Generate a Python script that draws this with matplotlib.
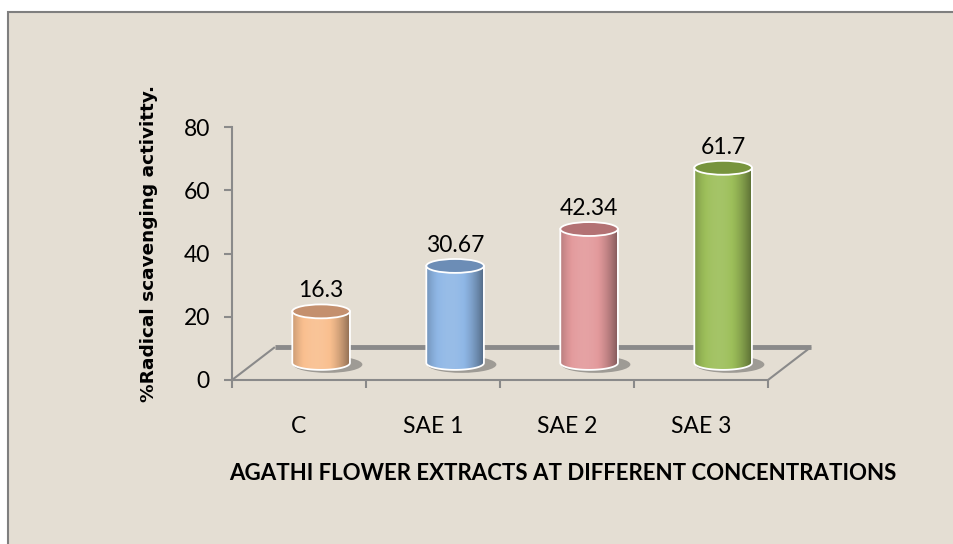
import numpy as np
import matplotlib
matplotlib.use("Agg")
import matplotlib.pyplot as plt
from matplotlib.patches import Polygon, Ellipse, Rectangle

# data
categories = ["C", "SAE 1", "SAE 2", "SAE 3"]
values = [16.3, 30.67, 42.34, 61.7]
value_labels = ["16.3", "30.67", "42.34", "61.7"]
body_colors = ["#F9BF8F", "#8FB7E6", "#E39A9C", "#9DBF5A"]
top_colors = ["#C4906E", "#6C8DB6", "#B37274", "#77943D"]
y_ticks = [0, 20, 40, 60, 80]

W, H = 954, 544
BG = "#E4DED3"
GRID = "#8A8A8A"
FONT = "Lato"

# 3d look, in data units
depth_dx, depth_dy = 0.165, 5.4      # cylinder base offset into the floor
floor_dx, floor_dy = 0.32, 10.4      # back edge of floor
half_w = 0.215
ell_h = 4.4


def shade(color, k):
    c = np.array(matplotlib.colors.to_rgb(color))
    if k >= 1:
        return c + (1 - c) * (k - 1)
    return c * k


def draw_cylinder(ax, xc, val, body, top):
    base = depth_dy
    ytop = base + val
    t = np.linspace(np.pi, 2 * np.pi, 60)
    arc = np.column_stack([xc + half_w * np.cos(t), base + ell_h / 2 * np.sin(t)])
    pts = np.vstack([[xc - half_w, ytop], arc, [xc + half_w, ytop]])

    # shadow on the floor
    ax.add_patch(Ellipse((xc + 0.05, base - 0.5), 2 * half_w * 1.2, ell_h * 1.2,
                         color="#4a4a4a", alpha=0.45, lw=0, zorder=3))

    # body with a horizontal gradient
    prof = np.linspace(-1, 1, 80)
    k = 1.08 - 0.38 * (prof + 0.15) ** 2
    grad = np.array([[shade(body, kk) for kk in k]])
    grad = np.clip(grad, 0, 1)
    poly = Polygon(pts, closed=True, facecolor="none", edgecolor="white", lw=1.3, zorder=5)
    ax.add_patch(poly)
    im = ax.imshow(grad, extent=(xc - half_w, xc + half_w, base - ell_h / 2, ytop),
                   aspect="auto", zorder=4, interpolation="bilinear")
    im.set_clip_path(poly)

    ax.add_patch(Ellipse((xc, ytop), 2 * half_w, ell_h, facecolor=top,
                         edgecolor="white", lw=1.3, zorder=6))


fig = plt.figure(figsize=(W / 100, H / 100), dpi=100, facecolor="white")
frame = Rectangle((8.5 / W, -0.1), 1.2, (H - 11.5) / H + 0.1,
                  transform=fig.transFigure, facecolor=BG,
                  edgecolor="#7f7f7f", lw=1.5, zorder=-5)
fig.patches.append(frame)

px_per_cat = 134.0
px_per_val = (380 - 127) / 80.0
x0_px, y0_px = 232, 380
xlim = (-0.5, 4.2)
ylim = (0, 80)
ax_w = (xlim[1] - xlim[0]) * px_per_cat
ax_h = (ylim[1] - ylim[0]) * px_per_val
ax = fig.add_axes([x0_px / W, (H - y0_px) / H, ax_w / W, ax_h / H])
ax.set_facecolor("none")
ax.set_xlim(*xlim)
ax.set_ylim(*ylim)

for s in ["top", "right"]:
    ax.spines[s].set_visible(False)
for s in ["left", "bottom"]:
    ax.spines[s].set_color(GRID)
    ax.spines[s].set_linewidth(1.5)
ax.spines["left"].set_bounds(0, 80)
ax.spines["bottom"].set_bounds(-0.5, len(categories) - 0.5)

ax.set_yticks(y_ticks)
ax.set_yticklabels([str(v) for v in y_ticks], fontfamily=FONT, fontsize=16.5)
ax.tick_params(axis="y", length=6, width=1.5, color=GRID, pad=10)

xs = np.arange(len(categories))
ax.set_xticks(np.arange(len(categories) + 1) - 0.5)
ax.set_xticklabels([])
ax.tick_params(axis="x", which="major", length=6, width=1.5, color=GRID)
ax.set_xticks(xs, minor=True)
ax.set_xticklabels(categories, minor=True, fontfamily=FONT, fontsize=16.5)
ax.tick_params(axis="x", which="minor", length=0, pad=26)

# floor outline
n = len(categories)
ax.plot([-0.5, -0.5 + floor_dx], [0, floor_dy], color=GRID, lw=1.5, zorder=2,
        solid_capstyle="butt", clip_on=False)
ax.plot([n - 0.5, n - 0.5 + floor_dx], [0, floor_dy], color=GRID, lw=1.5, zorder=2,
        solid_capstyle="butt", clip_on=False)
ax.plot([-0.5 + floor_dx, n - 0.5 + floor_dx], [floor_dy, floor_dy], color=GRID,
        lw=3.5, zorder=2, solid_capstyle="butt")

for i, v in enumerate(values):
    xc = xs[i] + depth_dx
    draw_cylinder(ax, xc, v, body_colors[i], top_colors[i])
    ax.text(xc, depth_dy + v + ell_h / 2 + 1.0, value_labels[i], ha="center",
            va="bottom", fontfamily=FONT, fontsize=16.5, color="black", zorder=7)

fig.text(563 / W, 1 - 473 / H, "AGATHI FLOWER EXTRACTS AT DIFFERENT CONCENTRATIONS",
         ha="center", va="center", fontfamily=FONT, fontweight="bold", fontsize=16)
fig.text(149 / W, 1 - 244 / H, "%Radical scavenging activitty.", rotation=90,
         ha="center", va="center", fontfamily="DejaVu Sans", fontweight="bold",
         fontsize=13.3)

fig.savefig("out.png", dpi=100, facecolor="white")
